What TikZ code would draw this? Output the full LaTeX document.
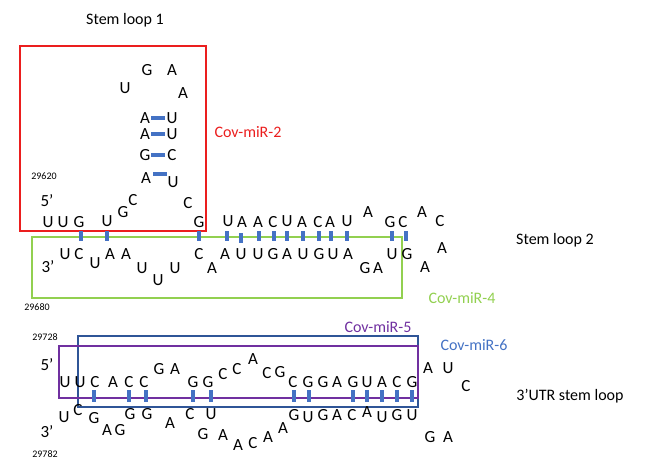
\documentclass[tikz,border=0pt]{standalone}
\usepackage{fontspec}
\setmainfont{Carlito}
\definecolor{bb}{RGB}{68,114,196}
\definecolor{rr}{RGB}{235,30,30}
\definecolor{gg}{RGB}{146,208,80}
\definecolor{pp}{RGB}{112,48,160}
\definecolor{nb}{RGB}{47,85,151}
\definecolor{lb}{RGB}{68,114,196}
\begin{document}
\begin{tikzpicture}[x=1pt,y=-1pt,
 b/.style={inner sep=0pt,font=\fontsize{17}{17}\selectfont},
 lab/.style={inner sep=0pt,font=\fontsize{16}{16}\selectfont},
 num/.style={inner sep=0pt,font=\fontsize{10}{10}\selectfont},
 bar/.style={line width=3.5pt,draw=bb},
 box/.style={line width=1.5pt}]
\useasboundingbox (0,0) rectangle (654,474);
% boxes
\draw[box,rr] (20,46) rectangle (206,231);
\draw[box,gg] (32,237) rectangle (402,298);
\draw[box,nb] (78,336) rectangle (418,407);
\draw[box,pp] (59,346) rectangle (418,398);
% labels
\node[lab] (t1) at (125,20) {Stem loop 1};
\node[lab,text=rr] (t2) at (248,132) {Cov-miR-2};
\node[lab] (t3) at (555,240) {Stem loop 2};
\node[lab,text=gg] (t4) at (462,298) {Cov-miR-4};
\node[lab,text=pp] (t5) at (378,327) {Cov-miR-5};
\node[lab,text=lb] (t6) at (474,345) {Cov-miR-6};
\node[lab] (t7) at (570,396) {3'UTR stem loop};
\node[num] (n1) at (44,176) {29620};
\node[num] (n2) at (37,307) {29680};
\node[num] (n3) at (45,337) {29728};
\node[num] (n4) at (45,454) {29782};
\node[b] (p1) at (47,201) {5'};
\node[b] (p2) at (48,267) {3'};
\node[b] (p3) at (47,365) {5'};
\node[b] (p4) at (47,432) {3'};
% stem loop 1 and 2 letters
\foreach \x/\y/\t [count=\i] in {147/70/G,172/70/A,125/88/U,183/93/A,
 145/118/A,172/118/U,145/134/A,172/134/U,145/155/G,172/155/C,146/178/A,173/182/U,
 48/222/U,63/222/U,79/222/G,107/221/U,123/212/G,133/200/C,188/203/C,199/222/G,
 228/221/U,242/222/A,258/222/A,273/222/C,287/221/U,302/222/A,318/222/C,330/222/A,347/221/U,
 368/212/A,390/222/G,403/222/C,422/212/A,440/221/C,442/248/A,425/267/A,
 65/254/U,79/254/C,95/263/U,110/254/A,126/254/A,142/268/U,158/280/U,175/268/U,
 199/254/C,212/268/A,225/254/A,241/254/U,258/254/U,273/254/G,287/254/A,303/254/U,
 319/254/G,333/254/U,348/254/A,365/268/G,378/268/A,392/254/U,407/254/G}
 \node[b] (s\i) at (\x,\y) {\t};
% bars stem loop 1
\foreach \y in {118,134,155} \draw[bar] (151,\y) -- (165,\y);
\draw[bar] (153,174) -- (167,174);
% vertical bars stem 2
\foreach \x in {81,107,199,227,259,274,287,303,319,331,347,392,406} \draw[bar] (\x,231) -- (\x,241);
\draw[bar] (241,233) -- (241,243);
% 3'UTR letters
\foreach \x/\y/\t [count=\i] in {65/382/U,80/382/U,95/382/C,113/382/A,129/382/C,144/382/C,
 159/369/G,175/369/A,193/382/G,208/382/G,223/374/C,237/369/C,253/359/A,267/373/C,280/372/G,
 293/382/C,308/382/G,323/382/G,337/382/A,353/382/G,367/382/U,382/382/A,397/382/C,412/382/G,
 428/368/A,448/368/U,466/386/C,430/437/G,448/437/A,
 64/417/U,78/410/C,94/418/G,107/430/A,120/430/G,130/414/G,147/414/G,170/423/A,
 190/414/C,211/414/U,203/434/G,223/435/A,238/445/A,253/443/C,268/437/A,283/428/A,
 294/415/G,308/417/U,323/415/G,337/415/A,352/415/C,367/412/A,382/417/U,397/415/G,412/415/U}
 \node[b] (u\i) at (\x,\y) {\t};
\foreach \x in {94,129,146,193,211,294,309,353,367,382,397,412} \draw[bar] (\x,390) -- (\x,402);
\end{tikzpicture}
\end{document}
